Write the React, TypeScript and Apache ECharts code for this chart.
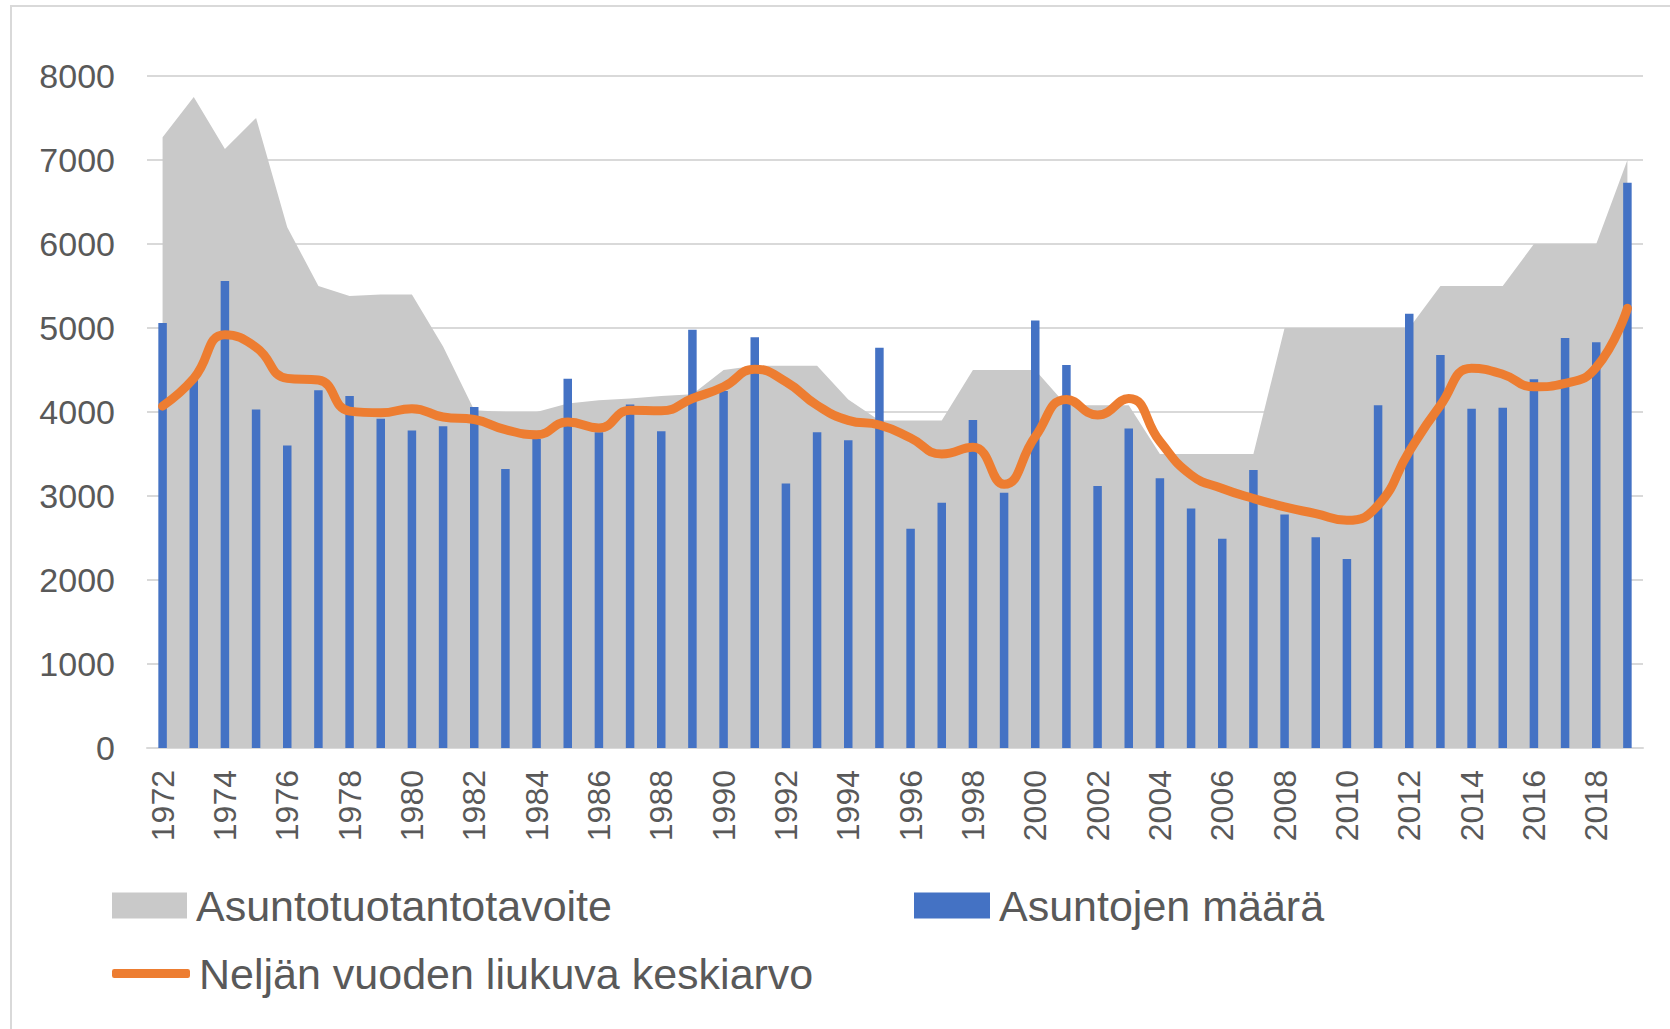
import React, { useEffect, useRef } from "react";
import * as echarts from "echarts";

const years: string[] = [];
for (let y = 1972; y <= 2019; y++) years.push(String(y));

const targetValues = [
  7270, 7750, 7130, 7500, 6200, 5500, 5380, 5400, 5400, 4780,
  4020, 4000, 4000, 4100, 4140, 4160, 4190, 4210, 4500, 4550,
  4550, 4550, 4150, 3900, 3900, 3900, 4500, 4500, 4500, 4080,
  4080, 4080, 3500, 3500, 3500, 3500, 5000, 5000, 5000, 5000,
  5000, 5500, 5500, 5500, 6000, 6000, 6000, 7000,
];

const dwellingValues = [
  5060, 4380, 5560, 4030, 3600, 4260, 4190, 3920, 3780, 3830,
  4060, 3320, 3680, 4395, 3760, 4090, 3770, 4980, 4250, 4890,
  3150, 3760, 3665, 4765, 2610, 2920, 3905, 3040, 5090, 4560,
  3120, 3805, 3210, 2850, 2490, 3310, 2780, 2510, 2250, 4080,
  5170, 4680, 4040, 4050, 4390, 4880, 4830, 6730,
];

const movingAvgValues = [
  4070, 4400, 4920, 4770, 4400, 4380, 4010, 3990, 4040, 3940,
  3910, 3790, 3730, 3880, 3810, 4020, 4015, 4160, 4300, 4510,
  4360, 4080, 3900, 3845, 3690, 3500, 3580, 3140, 3706, 4150,
  3964, 4160, 3650, 3250, 3090, 2970, 2870, 2790, 2710, 2890,
  3530, 4080, 4520, 4450, 4300, 4340, 4530, 5234,
];

const NAME_TARGET = "Asuntotuotantotavoite";
const NAME_COUNT = "Asuntojen määrä";
const NAME_AVG = "Neljän vuoden liukuva keskiarvo";

const FONT = "'Liberation Sans', Arial, sans-serif";
const TEXT = "#595959";

export default function App() {
  const ref = useRef<HTMLDivElement>(null);

  useEffect(() => {
    if (!ref.current) return;
    const chart = echarts.init(ref.current, undefined, { renderer: "svg" });
    const legendText = { fontSize: 43, color: TEXT, fontFamily: FONT, padding: [0, 0, 0, 4] };
    chart.setOption({
      animation: false,
      backgroundColor: "#ffffff",
      textStyle: { fontFamily: FONT },
      grid: { left: 147, right: 27, top: 76, bottom: 281, containLabel: false },
      graphic: [
        {
          type: "polyline",
          shape: { points: [[11, 1029], [11, 6], [1670, 6]] },
          style: { stroke: "#d9d9d9", lineWidth: 2, fill: "none" },
          silent: true,
        },
      ],
      legend: [
        {
          data: [{ name: NAME_TARGET, icon: "rect" }],
          left: 112,
          top: 884,
          padding: 0,
          itemWidth: 75,
          itemHeight: 26,
          textStyle: legendText,
          selectedMode: false,
        },
        {
          data: [{ name: NAME_COUNT, icon: "rect" }],
          left: 914,
          top: 884,
          padding: 0,
          itemWidth: 76,
          itemHeight: 26,
          textStyle: legendText,
          selectedMode: false,
        },
        {
          data: [{ name: NAME_AVG, icon: "roundRect" }],
          left: 112,
          top: 952,
          padding: 0,
          itemWidth: 78,
          itemHeight: 9,
          textStyle: legendText,
          selectedMode: false,
        },
      ],
      xAxis: {
        type: "category",
        data: years,
        boundaryGap: true,
        axisLine: { show: true, lineStyle: { color: "#d9d9d9", width: 2 } },
        axisTick: { show: false },
        axisLabel: {
          interval: 1,
          rotate: 90,
          fontSize: 32,
          color: TEXT,
          fontFamily: FONT,
          margin: 22,
        },
        splitLine: { show: false },
      },
      yAxis: {
        type: "value",
        min: 0,
        max: 8000,
        interval: 1000,
        axisLine: { show: false },
        axisTick: { show: false },
        axisLabel: {
          fontSize: 34,
          color: TEXT,
          fontFamily: FONT,
          margin: 32,
          formatter: (v: number) => String(v),
        },
        splitLine: { show: true, lineStyle: { color: "#d9d9d9", width: 2 } },
      },
      series: [
        {
          name: NAME_TARGET,
          type: "line",
          data: targetValues,
          symbol: "none",
          color: "#c9c9c9",
          itemStyle: { color: "#c9c9c9" },
          lineStyle: { width: 0, color: "#c9c9c9" },
          areaStyle: { color: "#c9c9c9", opacity: 1 },
          z: 1,
        },
        {
          name: NAME_COUNT,
          type: "bar",
          data: dwellingValues,
          barWidth: 8.5,
          color: "#4472c4",
          itemStyle: { color: "#4472c4" },
          z: 2,
        },
        {
          name: NAME_AVG,
          type: "line",
          data: movingAvgValues,
          symbol: "none",
          smooth: 0.5,
          color: "#ed7d31",
          itemStyle: { color: "#ed7d31" },
          lineStyle: { width: 9, color: "#ed7d31", cap: "round", join: "round" },
          z: 3,
        },
      ],
    });
    return () => chart.dispose();
  }, []);

  return (
    <div
      ref={ref}
      style={{ position: "fixed", left: 0, top: 0, width: 1670, height: 1029, background: "#fff" }}
    />
  );
}
